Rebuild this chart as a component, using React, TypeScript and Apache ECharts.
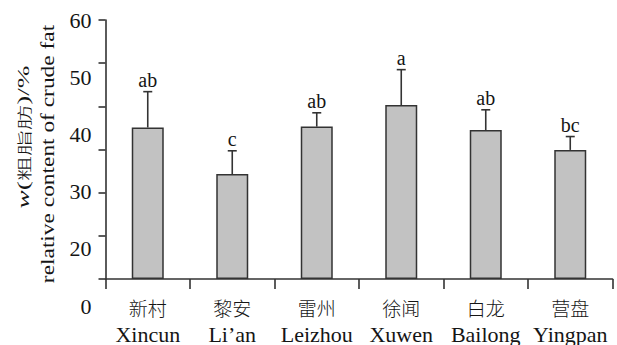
import React, { useEffect, useRef } from "react";
import * as echarts from "echarts";

const categoriesCn = ["新村", "黎安", "雷州", "徐闻", "白龙", "营盘"];
const categoriesEn = ["Xincun", "Li\u2019an", "Leizhou", "Xuwen", "Bailong", "Yingpan"];
const means = [35.1, 24.3, 35.3, 40.3, 34.5, 29.9];
const errors = [8.3, 5.4, 3.2, 8.2, 4.7, 3.1];
const letters = ["ab", "c", "ab", "a", "ab", "bc"];
const yTickLabels = ["0", "20", "30", "40", "50", "60"];
const yTitleLine1 = { italic: "w", cn: "粗脂肪", unit: "/%" };
const yTitleLine2 = "relative content of crude fat";

const SERIF = "Liberation Serif";
const CJK = "Noto Sans CJK SC";
const INK = "#333333";
const TXT = "#151515";

export default function App() {
  const ref = useRef<HTMLDivElement>(null);
  useEffect(() => {
    if (!ref.current) return;
    const chart = echarts.init(ref.current, null, { renderer: "svg" });
    const option: any = {
      animation: false,
      backgroundColor: "#ffffff",
      textStyle: { fontFamily: SERIF },
      grid: [
        { left: 105.5, top: 20, width: 507, height: 265 },
        { left: 105.5, top: 20, width: 10, height: 286 },
      ],
      xAxis: [
        {
          type: "category",
          gridIndex: 0,
          data: categoriesEn,
          boundaryGap: true,
          axisLine: { lineStyle: { color: INK, width: 1.6 } },
          axisTick: { show: true, length: 10, inside: false, alignWithLabel: false, lineStyle: { color: INK, width: 1.6 } },
          axisLabel: {
            interval: 0,
            margin: 14.5,
            fontFamily: SERIF,
            formatter: (_v: string, i: number) => `{cn|${categoriesCn[i]}}\n{en|${categoriesEn[i]}}`,
            rich: {
              cn: { fontFamily: CJK, fontSize: 19, fontWeight: 300, lineHeight: 27, color: TXT },
              en: { fontFamily: SERIF, fontSize: 22, lineHeight: 27, color: TXT },
            },
          },
          splitLine: { show: false },
        },
        { type: "value", gridIndex: 1, show: false },
      ],
      yAxis: [
        {
          type: "value",
          gridIndex: 0,
          min: 0,
          max: 60,
          interval: 10,
          axisLine: { show: true, lineStyle: { color: INK, width: 1.6 } },
          axisTick: { show: true, length: 7, inside: false, lineStyle: { color: INK, width: 1.6 } },
          axisLabel: { show: false },
          splitLine: { show: false },
        },
        {
          type: "category",
          gridIndex: 1,
          data: yTickLabels,
          boundaryGap: false,
          axisLine: { show: false },
          axisTick: { show: false },
          splitLine: { show: false },
          axisLabel: { interval: 0, margin: 14, fontFamily: SERIF, fontSize: 22, color: TXT },
        },
      ],
      series: [
        {
          type: "bar",
          xAxisIndex: 0,
          yAxisIndex: 0,
          data: means,
          barWidth: 32,
          itemStyle: { color: "#c2c2c2", borderColor: INK, borderWidth: 1.5 },
        },
        {
          type: "custom",
          xAxisIndex: 0,
          yAxisIndex: 0,
          data: means.map((m, i) => [i, m, m + errors[i]]),
          z: 5,
          renderItem: (params: any, api: any) => {
            const i = api.value(0);
            const base = api.coord([i, api.value(1)]);
            const top = api.coord([i, api.value(2)]);
            const x = base[0];
            return {
              type: "group",
              children: [
                { type: "line", shape: { x1: x, y1: base[1], x2: x, y2: top[1] }, style: { stroke: INK, lineWidth: 1.6 } },
                { type: "line", shape: { x1: x - 4.5, y1: top[1], x2: x + 4.5, y2: top[1] }, style: { stroke: INK, lineWidth: 1.6 } },
                {
                  type: "text",
                  x: x,
                  y: top[1] - 11.5,
                  style: {
                    text: letters[params.dataIndex],
                    align: "center",
                    verticalAlign: "middle",
                    fontFamily: SERIF,
                    fontSize: 20,
                    fill: TXT,
                  },
                },
              ],
            };
          },
        },
      ],
      graphic: [
        {
          type: "text",
          x: 24,
          y: 137,
          rotation: Math.PI / 2,
          scaleX: 1.7,
          style: {
            text: `{i|${yTitleLine1.italic}}{n|(}{c|${yTitleLine1.cn}}{n|)${yTitleLine1.unit}}`,
            align: "center",
            verticalAlign: "middle",
            fontFamily: SERIF,
            rich: {
              i: { fontFamily: SERIF, fontStyle: "italic", fontSize: 16, fill: TXT },
              n: { fontFamily: SERIF, fontSize: 16, fill: TXT },
              c: { fontFamily: CJK, fontWeight: 300, fontSize: 15, fill: TXT },
            },
          },
        },
        {
          type: "text",
          x: 48,
          y: 154,
          rotation: Math.PI / 2,
          scaleX: 1.2,
          style: {
            text: yTitleLine2,
            align: "center",
            verticalAlign: "middle",
            fontFamily: SERIF,
            fontSize: 19.5,
            fill: TXT,
          },
        },
      ],
    };
    chart.setOption(option);
    return () => chart.dispose();
  }, []);
  return <div ref={ref} style={{ position: "fixed", left: 0, top: 0, width: 617, height: 345 }} />;
}
